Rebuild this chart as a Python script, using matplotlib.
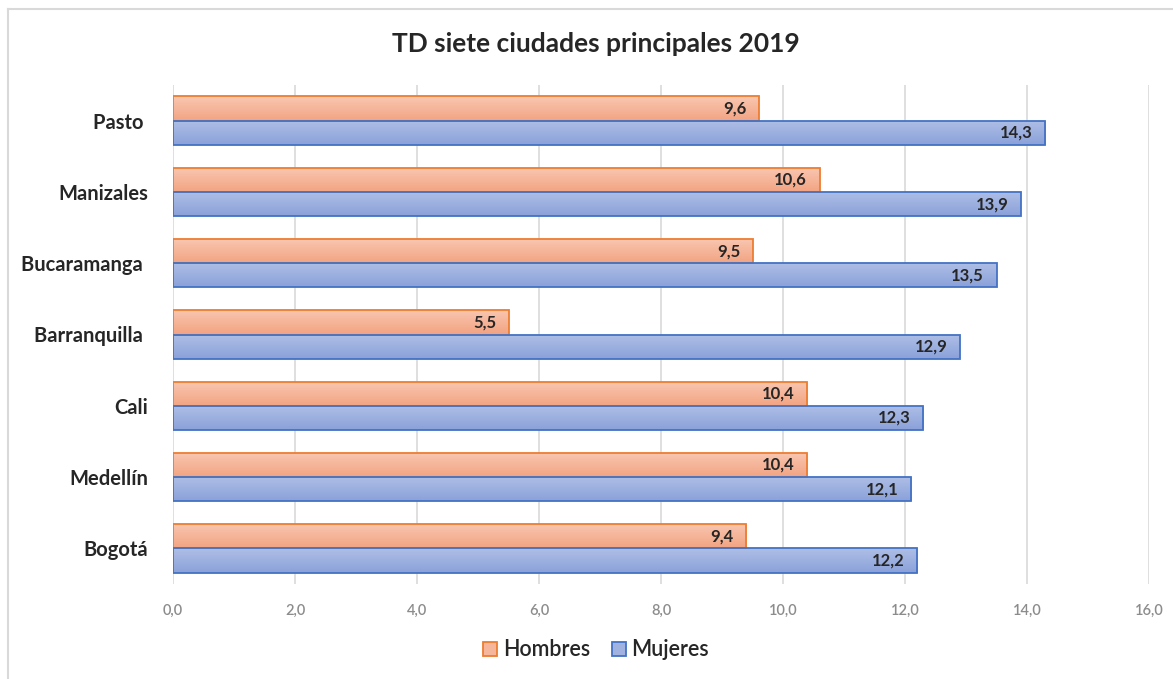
import matplotlib
matplotlib.use("Agg")
import matplotlib.pyplot as plt
import numpy as np
from matplotlib.patches import Rectangle, Patch
from matplotlib.colors import LinearSegmentedColormap
from matplotlib.lines import Line2D

# Data
ciudades = ["Pasto ", "Manizales", "Bucaramanga ", "Barranquilla ", "Cali", "Medellín", "Bogotá"]
hombres = [9.6, 10.6, 9.5, 5.5, 10.4, 10.4, 9.4]
mujeres = [14.3, 13.9, 13.5, 12.9, 12.3, 12.1, 12.2]
xticks = [0, 2, 4, 6, 8, 10, 12, 14, 16]
titulo = "TD siete ciudades principales 2019"
series = ["Hombres", "Mujeres"]

plt.rcParams["font.family"] = ["Lato", "DejaVu Sans"]

W, H, DPI = 1173, 679, 100
fig = plt.figure(figsize=(W / DPI, H / DPI), dpi=DPI)
fig.patch.set_facecolor("white")
ax = fig.add_axes([173 / W, 1 - 584 / H, (1149 - 173) / W, (584 - 85) / H])

orange_edge = "#ED7D31"
blue_edge = "#4472C4"
orange_cmap = LinearSegmentedColormap.from_list("o", ["#F2A482", "#F9C7B2"])
blue_cmap = LinearSegmentedColormap.from_list("b", ["#8BA1D9", "#AEBFE6"])

n = len(ciudades)
ypos = np.arange(n)[::-1]  # first city at the top
bh = 0.34
grad = np.linspace(0, 1, 64).reshape(-1, 1)


def gradient_bar(x, yc, h, cmap, edge):
    rect = Rectangle((0, yc - h / 2), x, h, facecolor="none", edgecolor=edge,
                     linewidth=1.3, zorder=4)
    ax.add_patch(rect)
    im = ax.imshow(grad, cmap=cmap, aspect="auto", origin="lower",
                   extent=(0, x, yc - h / 2, yc + h / 2), zorder=3,
                   interpolation="bilinear")
    im.set_clip_path(rect)


for i in range(n):
    yo = ypos[i] + bh / 2
    yb = ypos[i] - bh / 2
    gradient_bar(hombres[i], yo, bh, orange_cmap, orange_edge)
    gradient_bar(mujeres[i], yb, bh, blue_cmap, blue_edge)
    for val, yc in ((hombres[i], yo), (mujeres[i], yb)):
        ax.annotate(f"{val:.1f}".replace(".", ","), xy=(val, yc), xytext=(-9, 0),
                    textcoords="offset points", ha="right", va="center",
                    fontsize=12, fontweight="bold", color="#262626", zorder=5)

ax.set_xlim(0, 16)
ax.set_ylim(-0.5, n - 0.5)
ax.set_xticks(xticks)
ax.set_xticklabels([f"{t:.1f}".replace(".", ",") for t in xticks],
                   fontsize=10.5, color="#8C8C8C", fontweight="semibold")
ax.tick_params(axis="x", length=0, pad=14)
ax.set_yticks(ypos)
ax.set_yticklabels(ciudades, fontsize=14.5, fontweight="bold", color="#262626")
ax.tick_params(axis="y", length=0, pad=18)
ax.grid(axis="x", color="#D9D9D9", linewidth=1.2, zorder=0)
ax.set_axisbelow(True)
for s in ax.spines.values():
    s.set_visible(False)

fig.text(596 / W, 1 - 44 / H, titulo, ha="center", va="center",
         fontsize=19, fontweight="bold", color="#262626")

handles = [Patch(facecolor="#F5B69C", edgecolor=orange_edge, linewidth=1.3),
           Patch(facecolor="#9FB2E0", edgecolor=blue_edge, linewidth=1.3)]
fig.legend(handles, series, loc="center", bbox_to_anchor=(596 / W, 1 - 650 / H),
           ncol=2, frameon=False, handlelength=0.65, handleheight=0.65,
           handletextpad=0.25, columnspacing=1.0, labelcolor="#262626",
           prop={"size": 15.5, "weight": "semibold"})

# chart frame
fig.add_artist(Line2D([8 / W, 8 / W], [0, 1 - 9 / H], color="#D9D9D9", linewidth=1.5,
                      transform=fig.transFigure))
fig.add_artist(Line2D([8 / W, 1], [1 - 9 / H, 1 - 9 / H], color="#D9D9D9", linewidth=1.5,
                      transform=fig.transFigure))

fig.savefig("out.png", dpi=DPI, facecolor="white")
